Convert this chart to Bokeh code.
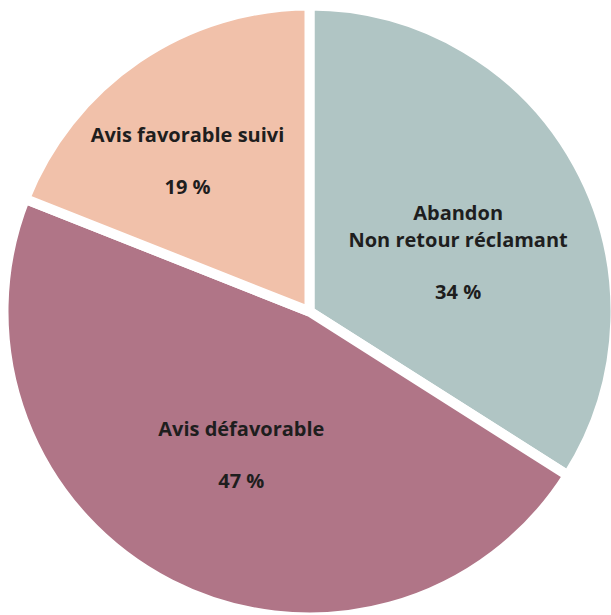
import math
from bokeh.plotting import figure
from bokeh.models import Range1d, ColumnDataSource
from bokeh.core.properties import value
from bokeh.embed import file_html
from bokeh.resources import INLINE

# ---- data ----
categories = ["Abandon\nNon retour réclamant", "Avis défavorable", "Avis favorable suivi"]
percents = [34, 47, 19]
colors = ["#b0c5c4", "#b07587", "#f1c1aa"]

# ---- layout (pixels) ----
W, H = 611, 615
CX, CY = 309, 311          # pie centre (top-left pixel coords)
R = 306                     # drawn radius (white stroke hides ~5 px)
GAP = 10                    # white separator width
# label placement: (distance from centre, angle offset in degrees from mid-angle)
label_layout = [(150, 21), (182, -5), (175, -10)]
NAME_GAP = 51               # distance from last name line to the percent line
FS = "20px"

total = float(sum(percents))
starts, ends, lx, ly, nx, ny, pct_txt = [], [], [], [], [], [], []
cum = 0.0
for i, v in enumerate(percents):
    a0 = cum / total
    cum += v
    a1 = cum / total
    # clockwise from 12 o'clock -> bokeh anticlock angles
    starts.append(math.pi / 2 - 2 * math.pi * a1)
    ends.append(math.pi / 2 - 2 * math.pi * a0)
    mid_deg = 360 * (a0 + a1) / 2 + label_layout[i][1]
    r = label_layout[i][0]
    px = CX + r * math.sin(math.radians(mid_deg))
    py = CY - r * math.cos(math.radians(mid_deg))
    lx.append(px)
    ly.append(H - py)
    nx.append(px)
    ny.append(H - py + NAME_GAP)
    pct_txt.append(f"{v} %")

src = ColumnDataSource(dict(start=starts, end=ends, color=colors,
                            x=[CX] * 3, y=[H - CY] * 3))

p = figure(width=W, height=H, x_range=Range1d(0, W), y_range=Range1d(0, H),
           output_backend="svg", toolbar_location=None, min_border=0)
p.axis.visible = False
p.grid.visible = False
p.outline_line_color = None
p.background_fill_color = "white"
p.border_fill_color = "white"

p.wedge(x="x", y="y", radius=R, start_angle="start", end_angle="end",
        fill_color="color", line_color="white", line_width=GAP, source=src)

p.text(x=nx, y=ny, text=categories, text_align="center", text_baseline="bottom",
       text_font=value("Open Sans"), text_font_style="bold", text_font_size=FS,
       text_color="#1e1e1e", text_line_height=1.0, y_offset=13)
p.text(x=lx, y=ly, text=pct_txt, text_align="center", text_baseline="middle",
       text_font=value("Open Sans"), text_font_style="bold", text_font_size=FS,
       text_color="#1e1e1e")

open("out.html", "w").write(file_html(p, INLINE))
